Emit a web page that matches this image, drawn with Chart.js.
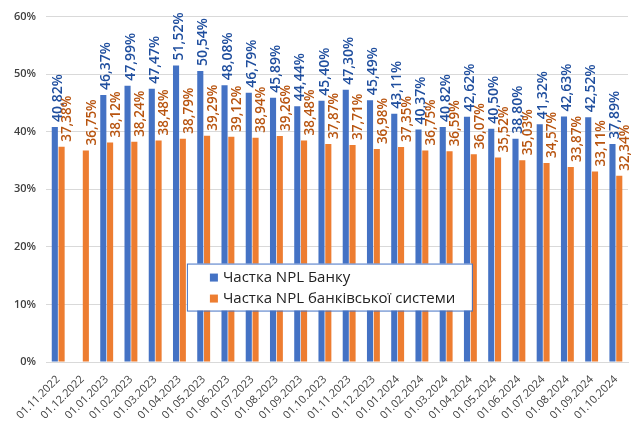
<!DOCTYPE html>
<html>
<head>
<meta charset="utf-8">
<script src="https://cdn.jsdelivr.net/npm/chart.js@4.4.0/dist/chart.umd.min.js"></script>
<style>
  html, body { margin: 0; padding: 0; background: #fff; }
  #wrap { width: 636px; height: 425px; }
</style>
</head>
<body>
<div id="wrap"><canvas id="npl"></canvas></div>
<script>
// month labels
var dates = ["01.11.2022", "01.12.2022", "01.01.2023", "01.02.2023", "01.03.2023", "01.04.2023",
	"01.05.2023", "01.06.2023", "01.07.2023", "01.08.2023", "01.09.2023", "01.10.2023",
	"01.11.2023", "01.12.2023", "01.01.2024", "01.02.2024", "01.03.2024", "01.04.2024",
	"01.05.2024", "01.06.2024", "01.07.2024", "01.08.2024", "01.09.2024", "01.10.2024"];
// Частка NPL Банку, %
var bankNpl = [40.82, null, 46.37, 47.99, 47.47, 51.52, 50.54, 48.08, 46.79, 45.89, 44.44, 45.40,
	47.30, 45.49, 43.11, 40.37, 40.82, 42.62, 40.50, 38.80, 41.32, 42.63, 42.52, 37.89];
// Частка NPL банківської системи, %
var systemNpl = [37.38, 36.75, 38.12, 38.24, 38.48, 38.79, 39.29, 39.12, 38.94, 39.26, 38.48, 37.87,
	37.71, 36.98, 37.35, 36.75, 36.59, 36.07, 35.52, 35.03, 34.57, 33.87, 33.11, 32.34];
var yTicks = [0, 10, 20, 30, 40, 50, 60];

var labelColors = ['#1F4E9E', '#B8540F'];

function fmt(v) {
	return v.toFixed(2).replace('.', ',') + '%';
}

// vertical value labels above each bar
var valueLabels = {
	id: 'valueLabels',
	afterDatasetsDraw: function(chart) {
		var ctx = chart.ctx;
		chart.data.datasets.forEach(function(ds, i) {
			var meta = chart.getDatasetMeta(i);
			meta.data.forEach(function(bar, j) {
				var v = ds.data[j];
				if (v === null) return;
				ctx.save();
				ctx.translate(bar.x + (i == 0 ? 3 : 6), bar.y - 5);
				ctx.rotate(-Math.PI / 2);
				ctx.font = '600 ' + (i == 0 ? '14px' : '13.5px') + ' "Open Sans"';
				ctx.fillStyle = labelColors[i];
				ctx.textAlign = 'left';
				ctx.textBaseline = 'middle';
				ctx.fillText(fmt(v), 0, 0);
				ctx.restore();
			});
		});
	}
};

// legend box sitting inside the plot
var boxLegend = {
	id: 'boxLegend',
	afterDraw: function(chart) {
		var ctx = chart.ctx;
		var a = chart.chartArea;
		var x = a.left + (a.right - a.left) * 0.242;
		var y = a.top + (a.bottom - a.top) * 0.715;
		var w = 285, h = 47;
		ctx.save();
		ctx.fillStyle = '#fff';
		ctx.fillRect(x, y, w, h);
		ctx.strokeStyle = '#4472C4';
		ctx.lineWidth = 1;
		ctx.strokeRect(x + 0.5, y + 0.5, w, h);
		ctx.font = '15px "Open Sans"';
		ctx.textBaseline = 'middle';
		chart.data.datasets.forEach(function(ds, i) {
			var cy = y + 14 + i * 21;
			ctx.fillStyle = ds.backgroundColor;
			ctx.fillRect(x + 23, cy - 4, 8, 8);
			ctx.fillStyle = '#222';
			ctx.fillText(ds.label, x + 36, cy);
		});
		ctx.restore();
	}
};

var ctx = document.getElementById('npl');
var npl = new Chart(ctx, {
	type: 'bar',
	data: {
		labels: dates,
		datasets: [
			{
				label: 'Частка NPL Банку',
				data: bankNpl,
				backgroundColor: '#4472C4',
				categoryPercentage: 0.56,
				barPercentage: 0.9
			},
			{
				label: 'Частка NPL банківської системи',
				data: systemNpl,
				backgroundColor: '#ED7D31',
				categoryPercentage: 0.56,
				barPercentage: 0.9
			}
		]
	},
	options: {
		responsive: true,
		maintainAspectRatio: false,
		animation: false,
		layout: { padding: { top: 13, right: 8, left: 4, bottom: 0 } },
		plugins: {
			legend: { display: false },
			tooltip: { enabled: false }
		},
		scales: {
			x: {
				grid: { display: false, drawTicks: true },
				border: { color: '#D9D9D9' },
				ticks: {
					color: '#404040',
					font: { family: 'Open Sans', size: 11 },
					maxRotation: 45,
					minRotation: 45,
					autoSkip: false
				}
			},
			y: {
				min: 0,
				max: 60,
				afterBuildTicks: function(axis) {
					axis.ticks = yTicks.map(function(v) { return { value: v }; });
				},
				grid: { color: '#D9D9D9', drawTicks: false },
				border: { display: false },
				ticks: {
					color: '#404040',
					padding: 10,
					font: { family: 'Open Sans', size: 11, weight: '600' },
					callback: function(v) { return v + '%'; }
				}
			}
		}
	},
	plugins: [valueLabels, boxLegend]
});
</script>
</body>
</html>
